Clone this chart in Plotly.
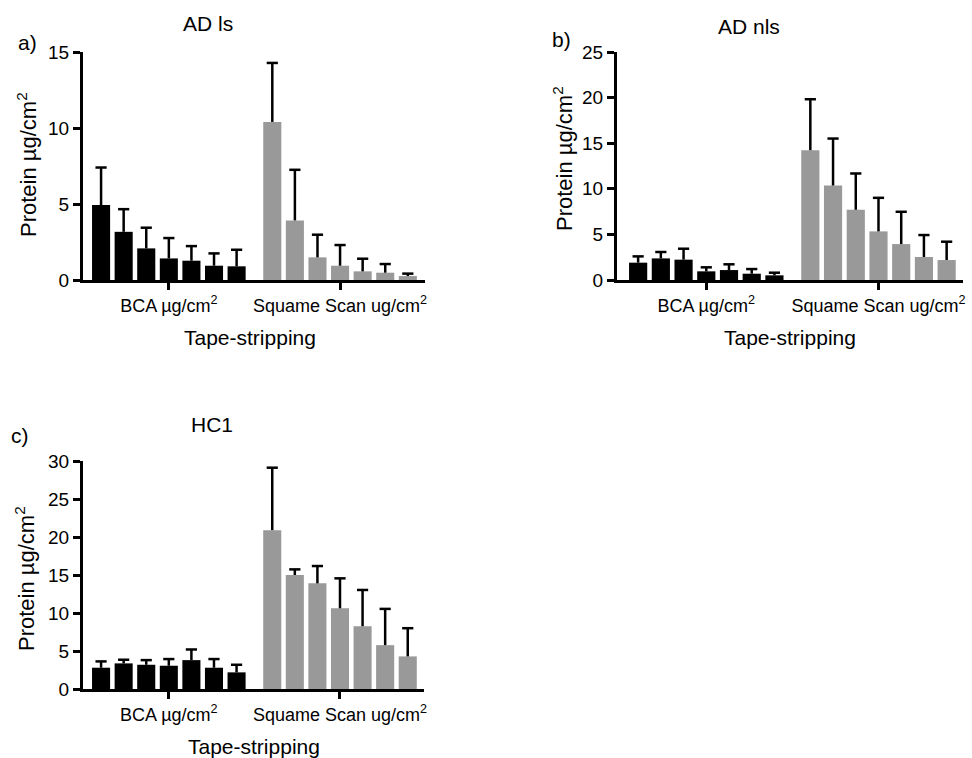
import numpy as np
import plotly.graph_objects as go

# ---------------- data ----------------
strips = [1, 2, 3, 4, 5, 6, 7]
group_labels = ["BCA µg/cm<sup>2</sup>", "Squame Scan ug/cm<sup>2</sup>"]

panel_titles = ["AD ls", "AD nls", "HC1"]
panel_letters = ["a)", "b)", "c)"]
y_max = [15, 25, 30]
y_dtick = [5, 5, 5]

# panel a: AD ls
a_bca_mean = [4.93, 3.17, 2.08, 1.42, 1.27, 0.94, 0.90]
a_bca_top = [7.40, 4.66, 3.44, 2.76, 2.23, 1.75, 1.99]
a_sq_mean = [10.40, 3.92, 1.49, 0.94, 0.57, 0.48, 0.26]
a_sq_top = [14.28, 7.25, 2.98, 2.30, 1.40, 1.05, 0.42]

# panel b: AD nls
b_bca_mean = [1.90, 2.37, 2.23, 0.95, 1.09, 0.69, 0.51]
b_bca_top = [2.59, 3.07, 3.43, 1.39, 1.72, 1.20, 0.80]
b_sq_mean = [14.23, 10.36, 7.70, 5.33, 3.94, 2.52, 2.19]
b_sq_top = [19.82, 15.51, 11.68, 9.01, 7.48, 4.93, 4.20]

# panel c: HC1
c_bca_mean = [2.80, 3.37, 3.19, 3.06, 3.80, 2.80, 2.19]
c_bca_top = [3.63, 3.85, 3.80, 3.94, 5.20, 3.94, 3.19]
c_sq_mean = [20.90, 15.00, 13.90, 10.62, 8.26, 5.77, 4.29]
c_sq_top = [29.12, 15.74, 16.18, 14.56, 13.03, 10.54, 8.00]

panels = [
    (a_bca_mean, a_bca_top, a_sq_mean, a_sq_top),
    (b_bca_mean, b_bca_top, b_sq_mean, b_sq_top),
    (c_bca_mean, c_bca_top, c_sq_mean, c_sq_top),
]

# ---------------- layout (pixels) ----------------
W, H = 972, 758
FONT = "Arial, Liberation Sans, Helvetica, sans-serif"
GROUP_OFFSET = 7.58
# plot area boxes: (x0, x1, ytop, ybottom) in px
boxes = [(83, 425, 52, 280), (617, 963, 52, 280), (83, 424, 461, 689)]
x_ranges = [(-0.8, 14.34), (-0.93, 14.3), (-0.8, 14.3)]
# annotation positions (px)
letter_pos = [(27, 42), (561, 40), (20, 435)]
title_pos = [(208, 23), (749, 26), (212, 424)]
ytitle_pos = [(27, 165), (563, 159), (25, 579)]
xtitle_pos = [(250, 338), (790, 338), (254, 746)]

fig = go.Figure()
annotations = []

def px_x(v):
    return v / W

def px_y(v):
    return 1 - v / H

for i, (bm, bt, sm, st) in enumerate(panels):
    n = i + 1
    xa = "x" if n == 1 else f"x{n}"
    ya = "y" if n == 1 else f"y{n}"
    idx = np.arange(len(strips))
    bca_x = idx
    sq_x = idx + GROUP_OFFSET
    bm_a, bt_a, sm_a, st_a = map(np.array, (bm, bt, sm, st))
    for xs, m, t, col in [(bca_x, bm_a, bt_a, "#000000"), (sq_x, sm_a, st_a, "#999999")]:
        fig.add_trace(go.Bar(
            x=xs, y=m, width=0.8, xaxis=xa, yaxis=ya,
            marker=dict(color=col, line=dict(width=0)),
            showlegend=False, hoverinfo="skip",
        ))
        # upper-only error bar: stem from mean to top, cap only at top
        fig.add_trace(go.Scatter(
            x=xs, y=t, mode="markers", xaxis=xa, yaxis=ya,
            marker=dict(symbol="line-ew", size=8, color="black",
                        line=dict(color="black", width=2.5)),
            error_y=dict(type="data", array=np.zeros_like(m), arrayminus=t - m,
                         symmetric=False, color="black", thickness=2.5, width=0),
            showlegend=False, hoverinfo="skip", cliponaxis=False,
        ))
    x0, x1, yt, yb = boxes[i]
    axis_common = dict(showline=True, linecolor="black", linewidth=3,
                       showgrid=False, zeroline=False, ticks="outside",
                       tickcolor="black", tickwidth=2.5, automargin=False)
    fig.layout[f"xaxis{'' if n == 1 else n}"] = dict(
        domain=[px_x(x0), px_x(x1)], anchor=ya, range=list(x_ranges[i]),
        tickmode="array", tickvals=[3, 3 + GROUP_OFFSET], ticktext=group_labels,
        ticklen=7, tickfont=dict(family=FONT, size=18, color="black"), **axis_common,
    )
    fig.layout[f"yaxis{'' if n == 1 else n}"] = dict(
        domain=[px_y(yb), px_y(yt)], anchor=xa, range=[0, y_max[i]],
        dtick=y_dtick[i], tick0=0, ticklen=7,
        tickfont=dict(family=FONT, size=19, color="black"), **axis_common,
    )
    lx, ly = letter_pos[i]
    annotations.append(dict(text=panel_letters[i], x=px_x(lx), y=px_y(ly), xref="paper", yref="paper",
                            showarrow=False, xanchor="center", yanchor="middle",
                            font=dict(family=FONT, size=21, color="black")))
    tx, ty = title_pos[i]
    annotations.append(dict(text=panel_titles[i], x=px_x(tx), y=px_y(ty), xref="paper", yref="paper",
                            showarrow=False, xanchor="center", yanchor="middle",
                            font=dict(family=FONT, size=21, color="black")))
    yx, yy = ytitle_pos[i]
    annotations.append(dict(text="Protein µg/cm<sup>2</sup>", x=px_x(yx), y=px_y(yy), xref="paper", yref="paper",
                            showarrow=False, xanchor="center", yanchor="middle", textangle=-90,
                            font=dict(family=FONT, size=22, color="black")))
    xx, xy = xtitle_pos[i]
    annotations.append(dict(text="Tape-stripping", x=px_x(xx), y=px_y(xy), xref="paper", yref="paper",
                            showarrow=False, xanchor="center", yanchor="middle",
                            font=dict(family=FONT, size=21, color="black")))

fig.update_layout(
    template="none",
    width=W, height=H, margin=dict(l=0, r=0, t=0, b=0, pad=0, autoexpand=False),
    paper_bgcolor="white", plot_bgcolor="white",
    annotations=annotations, barmode="overlay", showlegend=False,
    font=dict(family=FONT, color="black"),
)

fig.write_html("out.html")
